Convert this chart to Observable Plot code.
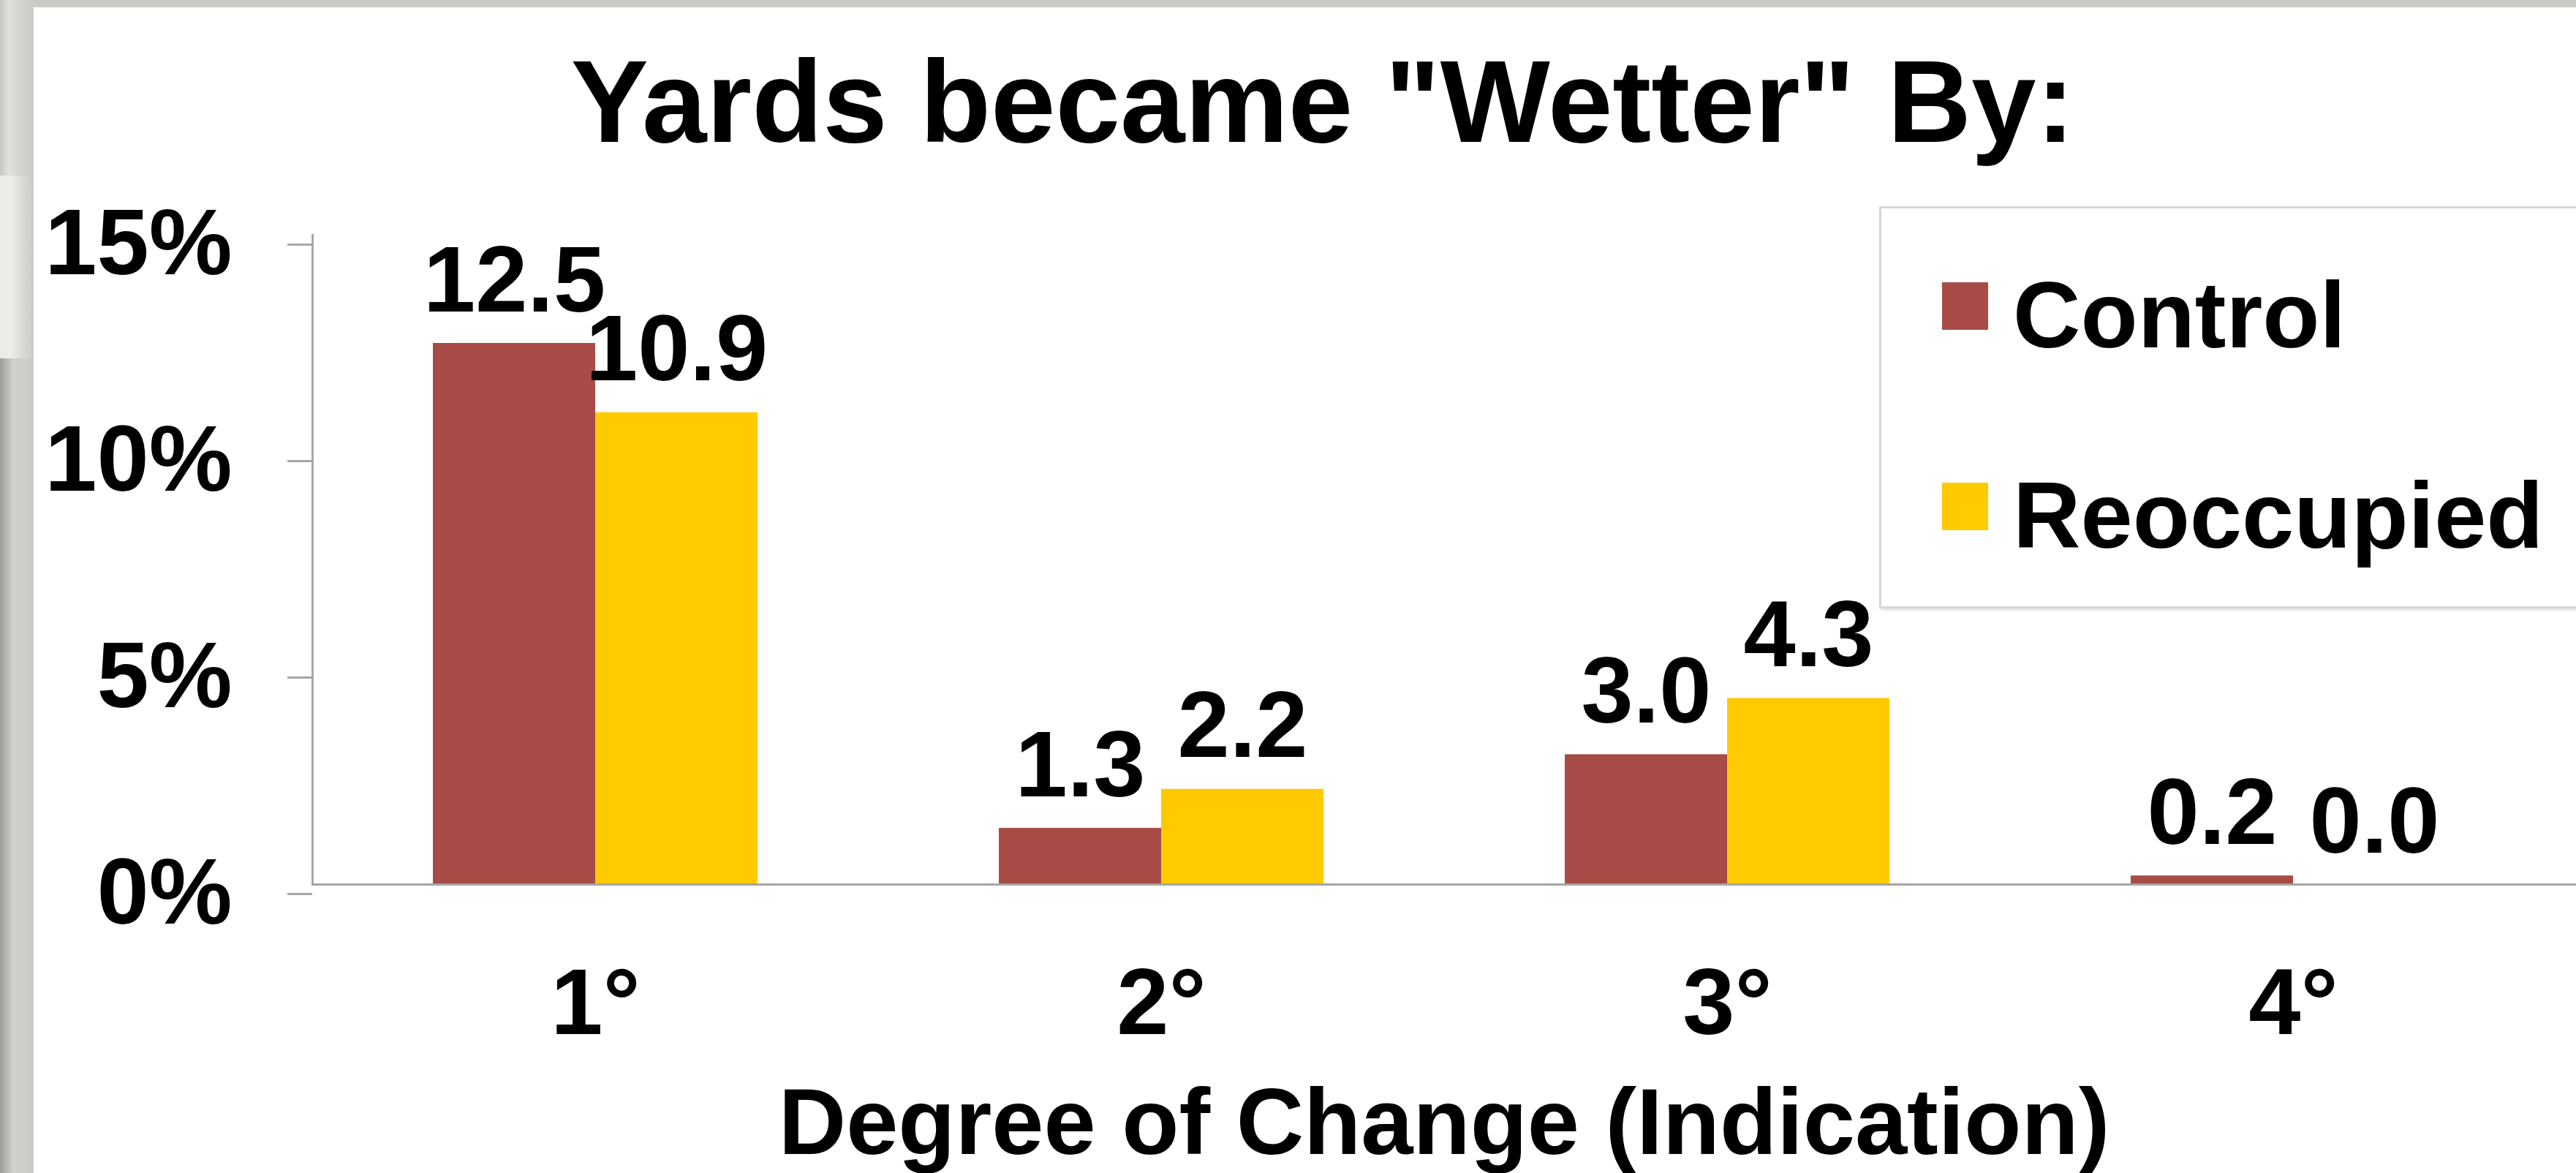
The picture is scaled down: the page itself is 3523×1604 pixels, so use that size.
<!DOCTYPE html>
<html>
<head>
<meta charset="utf-8">
<script src="https://cdn.jsdelivr.net/npm/d3@7"></script>
<script src="https://cdn.jsdelivr.net/npm/@observablehq/plot@0.6"></script>
<style>
  html, body { margin: 0; padding: 0; width: 3523px; height: 1604px; overflow: hidden; }
  body { background: #cbcbc6; position: relative; font-family: "Liberation Sans", Arial, sans-serif; font-weight: bold; color: #000; }
  .strip { position: absolute; left: 0; width: 46px; }
  #stripA { top: 0; height: 240px;
    background: linear-gradient(to right, #c6c6c1 0px, #e2e2dc 12px, #d6d6d0 24px, #cbcbc6 46px); }
  #stripB { top: 240px; height: 250px;
    background: linear-gradient(to right, #ecece6 0px, #efefe9 14px, #dcdcd6 30px, #cbcbc6 46px); }
  #stripC { top: 490px; height: 1114px;
    background: linear-gradient(to right, #9c9c9a 0px, #b4b4b0 8px, #d2d2cc 18px, #d0d0ca 28px, #cbcbc6 46px); }
  #panel { position: absolute; left: 46px; top: 10px; right: 0; bottom: 0; background: #fff; }
  #chart { position: absolute; left: 0; top: 0; }
  .txt { position: absolute; white-space: nowrap; line-height: 1; }
  #title { font-size: 159px; top: 60px; left: 0; width: 3618px; text-align: center; }
  #xlabel { font-size: 128px; top: 1470px; left: 427px; width: 3096px; text-align: center; }
  #legend { position: absolute; left: 2570px; top: 282px; width: 1000px; height: 544px;
    border: 3px solid #d6d6d6; box-shadow: 2px 2px 4px rgba(0,0,0,0.15); background: #fff; }
  .sw { position: absolute; width: 63px; height: 65px; }
  .lt { position: absolute; font-size: 128px; line-height: 1; white-space: nowrap; }
</style>
</head>
<body>
<div id="stripA" class="strip"></div>
<div id="stripB" class="strip"></div>
<div id="stripC" class="strip"></div>
<div id="panel"></div>
<div id="chart"></div>
<div id="title" class="txt"></div>
<div id="xlabel" class="txt"></div>
<div id="legend"></div>
<script>
// ---- data ----
const degrees = ["1°", "2°", "3°", "4°"];
const seriesNames = ["Control", "Reoccupied"];
const controlValues = [12.5, 1.3, 3.0, 0.2];
const reoccupiedValues = [10.9, 2.2, 4.3, 0.0];
const seriesColors = ["#A84B47", "#FFCA00"];
const yTicks = [0, 5, 10, 15];
const titleText = "Yards became \"Wetter\" By:";
const xLabelText = "Degree of Change (Indication)";

const data = degrees.flatMap((d, i) => [
  {degree: d, series: seriesNames[0], value: controlValues[i]},
  {degree: d, series: seriesNames[1], value: reoccupiedValues[i]}
]);

const axisGray = "#a6a6a6";
const font = "'Liberation Sans', Arial, sans-serif";

const chart = Plot.plot({
  width: 3523,
  height: 1604,
  marginLeft: 427,
  marginRight: 0,
  marginTop: 321,
  marginBottom: 395,
  style: {background: "transparent", fontFamily: font, fontSize: "128px", fontWeight: "bold", color: "black", overflow: "visible"},
  fx: {domain: degrees, padding: 0, axis: null, label: null},
  x: {domain: seriesNames, paddingInner: 0, paddingOuter: 0.742, axis: null},
  y: {domain: [0, 15], axis: null},
  color: {domain: seriesNames, range: seriesColors},
  marks: [
    Plot.barY(data, {fx: "degree", x: "series", y: "value", fill: "series"}),
    Plot.ruleY([0], {stroke: axisGray, strokeWidth: 3}),
    Plot.frame({anchor: "left", facetAnchor: "left", stroke: axisGray, strokeWidth: 3}),
    Plot.axisY({ticks: yTicks, tickSize: 34, tickPadding: 76, tickFormat: d => d + "%",
      stroke: axisGray, strokeWidth: 3, fill: "black", fontSize: 128, fontWeight: "bold", dy: 13, label: null}),
    Plot.axisFx({anchor: "bottom", tickSize: 0, tickPadding: 114, fill: "black", fontSize: 128, fontWeight: "bold", label: null}),
    Plot.text(data, {fx: "degree", x: "series", y: "value", text: d => d.value.toFixed(1),
      lineAnchor: "bottom", dy: -44, fontSize: 128, fontWeight: "bold", fill: "black"})
  ]
});
document.getElementById("chart").appendChild(chart);

document.getElementById("title").textContent = titleText;
document.getElementById("xlabel").textContent = xLabelText;

// legend (HTML, outside the SVG)
const legend = document.getElementById("legend");
const legendRows = [{sw: 101, tx: 82}, {sw: 375, tx: 356}];
seriesNames.forEach((name, i) => {
  const sw = document.createElement("div");
  sw.className = "sw";
  sw.style.left = "83px";
  sw.style.top = legendRows[i].sw + "px";
  sw.style.background = seriesColors[i];
  legend.appendChild(sw);
  const t = document.createElement("div");
  t.className = "lt";
  t.style.left = "180px";
  t.style.top = legendRows[i].tx + "px";
  t.textContent = name;
  legend.appendChild(t);
});
</script>
</body>
</html>
